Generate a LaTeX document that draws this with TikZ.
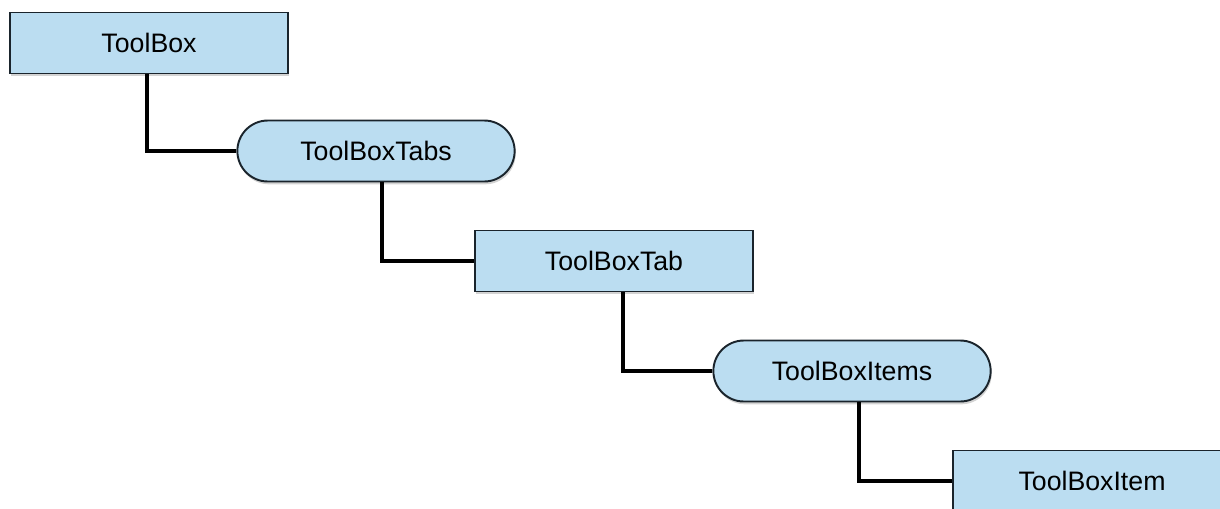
\documentclass[tikz,border=0pt]{standalone}
\usepackage{fontspec}
\setmainfont{Liberation Sans}
\usetikzlibrary{positioning, shapes.misc, shadows}
\definecolor{boxblue}{RGB}{187,221,241}
\definecolor{boxline}{RGB}{26,36,44}

\begin{document}
\begin{tikzpicture}[
    cls/.style = {rectangle, draw=boxline, line width=1.1pt, fill=boxblue,
                  minimum width=5.56cm, minimum height=1.22cm,
                  font=\fontsize{15.2}{18}\selectfont,
                  drop shadow={shadow xshift=0.6pt, shadow yshift=-1.6pt, opacity=0.35}},
    coll/.style = {cls, rounded rectangle, minimum width=5.78cm},
    link/.style = {draw=black, line width=2pt}
  ]
  \useasboundingbox (0, 0) rectangle (24.4, -10.16);

  % nodes at explicit coordinates (in cm), each one step right and down
  \node[cls]  (toolbox)  at (2.98, -0.86)  {ToolBox};
  \node[coll] (tabs)     at (7.52, -3.02)  {ToolBoxTabs};
  \node[cls]  (tab)      at (12.28, -5.22) {ToolBoxTab};
  \node[coll] (items)    at (17.04, -7.42) {ToolBoxItems};
  \node[cls]  (item)     at (21.84, -9.62) {ToolBoxItem};

  % elbow connectors: down from the parent, then right into the child
  \path[link] ([xshift=-0.04cm]toolbox.south) |- (tabs.west);
  \path[link] ([xshift=0.12cm]tabs.south)     |- (tab.west);
  \path[link] ([xshift=0.18cm]tab.south)      |- (items.west);
  \path[link] ([xshift=0.14cm]items.south)    |- (item.west);
\end{tikzpicture}
\end{document}
